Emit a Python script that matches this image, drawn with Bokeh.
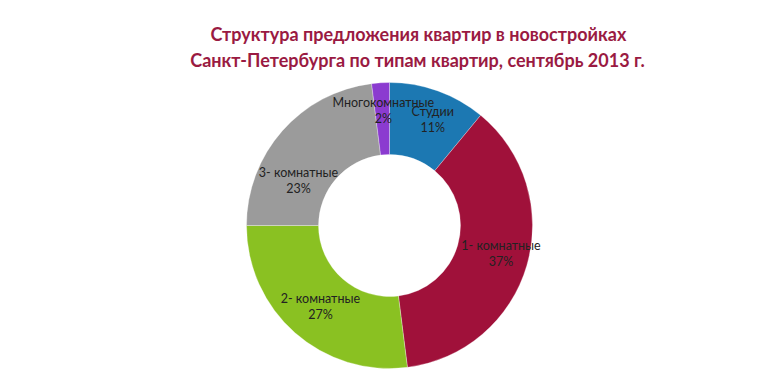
import numpy as np
from bokeh.plotting import figure
from bokeh.models import Range1d, ColumnDataSource
from bokeh.core.properties import value
from bokeh.embed import file_html
from bokeh.resources import INLINE

# ---- data ----
categories = ["Студии", "1- комнатные", "2- комнатные", "3- комнатные", "Многокомнатные"]
shares = [11, 37, 27, 23, 2]
colors = ["#1c78b2", "#a0113a", "#8ac122", "#9b9b9b", "#8b3bd0"]
title_lines = ["Структура предложения квартир в новостройках",
               "Санкт-Петербурга по типам квартир, сентябрь 2013 г."]

W, H = 754, 374
p = figure(width=W, height=H, output_backend="svg", toolbar_location=None,
           x_range=Range1d(0, W), y_range=Range1d(0, H), min_border=0,
           outline_line_color=None)
p.axis.visible = False
p.grid.visible = False
p.background_fill_color = "white"
p.border_fill_color = "white"

cx, cy = 389, H - 225
r_out, r_in = 143, 71

vals = np.array(shares, dtype=float)
frac = vals / vals.sum()
cum = np.concatenate([[0], np.cumsum(frac)])
# clockwise from 12 o'clock
start = np.pi / 2 - cum[1:] * 2 * np.pi
end = np.pi / 2 - cum[:-1] * 2 * np.pi
mid = (start + end) / 2

src = ColumnDataSource(dict(start=start, end=end, color=colors,
                            cat=categories, share=shares))
p.annular_wedge(x=cx, y=cy, inner_radius=r_in, outer_radius=r_out,
                start_angle="start", end_angle="end", fill_color="color",
                line_color="white", line_width=0.6, line_alpha=0.5, source=src)

# labels at ring middle with small adjustments (screen px; +y = down)
lab_r = [113, 113, 106, 104, 115]
adj_x = [5, 3, 1, -13, 1]
adj_y = [0, -4, 1, 24, 0]
lx = [cx + r * np.cos(a) + dx for r, a, dx in zip(lab_r, mid, adj_x)]
ly = [cy + r * np.sin(a) - dy for r, a, dy in zip(lab_r, mid, adj_y)]
lsrc = ColumnDataSource(dict(x=lx, y=ly, name=categories,
                             pct=[f"{s}%" for s in shares]))
p.text(x="x", y="y", text="name", source=lsrc, y_offset=-8,
       text_align="center", text_baseline="middle",
       text_font=value("Lato"), text_font_size="12.5px", text_color="#222222")
p.text(x="x", y="y", text="pct", source=lsrc, y_offset=8,
       text_align="center", text_baseline="middle",
       text_font=value("Lato"), text_font_size="12.5px", text_color="#222222")

# title
p.text(x=[418, 417], y=[H - 33, H - 59], text=title_lines,
       text_align="center", text_baseline="middle",
       text_font=value("Lato"), text_font_style="bold",
       text_font_size="18px", text_color="#9a1a42")

open("out.html", "w").write(file_html(p, INLINE))
